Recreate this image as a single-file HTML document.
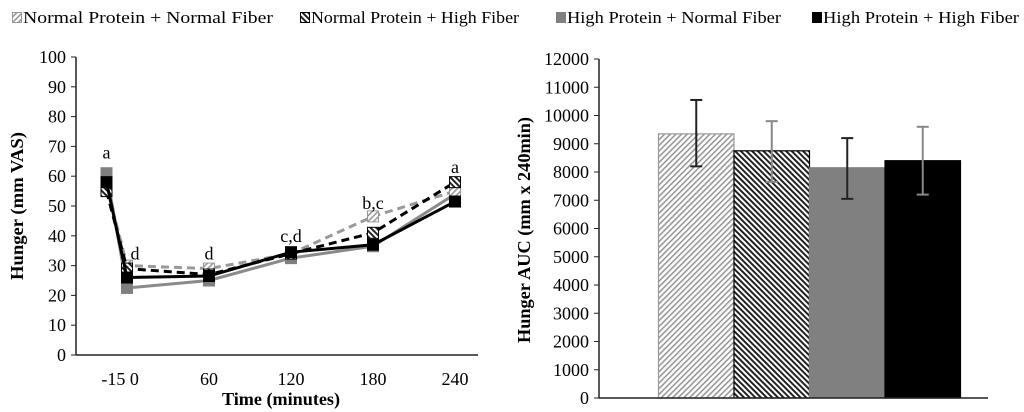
<!DOCTYPE html>
<html><head><meta charset="utf-8"><style>
html,body{margin:0;padding:0;background:#fff;}
svg{display:block;font-family:"Liberation Serif",serif;}
</style></head><body>
<svg id="c" width="1024" height="412" viewBox="0 0 1024 412">
<defs>
<pattern id="hl" patternUnits="userSpaceOnUse" width="4" height="4" patternTransform="rotate(45)"><rect width="4" height="4" fill="#fff"/><rect width="1.6" height="4" fill="#999"/></pattern>
<pattern id="hd" patternUnits="userSpaceOnUse" width="4" height="4" patternTransform="rotate(-45)"><rect width="4" height="4" fill="#fff"/><rect width="2" height="4" fill="#222"/></pattern>
</defs>
<g id="legend"></g>
<g id="left"></g>
<g id="right"></g>
</svg>
<script>
const NS="http://www.w3.org/2000/svg";
const seriesNames=["Normal Protein + Normal Fiber","Normal Protein + High Fiber","High Protein + Normal Fiber","High Protein + High Fiber"];
const times=[-15,0,60,120,180,240];
const npnf=[57,30,29,34,46.5,55];
const nphf=[55,29,27,34,41,58];
const hpnf=[61,22.5,25,32.5,36.5,54];
const hphf=[58,26,26.5,34.5,37,51.5];
const yTicksL=[0,10,20,30,40,50,60,70,80,90,100];
const xTickLabels=["-15 0","60","120","180","240"];
const xTickVals=[-5,60,120,180,240];
const sigTimes=[-15,0,60,120,180,240];
const sigLabels=["a","d","d","c,d","b,c","a"];
const sigVals=[66,32,32,38,49,61];
const aucMeans=[9350,8750,8150,8400];
const aucLow=[8200,7650,7050,7200];
const aucHigh=[10550,9800,9200,9600];
const yTicksR=[0,1000,2000,3000,4000,5000,6000,7000,8000,9000,10000,11000,12000];

function el(p,t,a){const e=document.createElementNS(NS,t);for(const k in a)e.setAttribute(k,a[k]);p.appendChild(e);return e;}
const fills=["url(#hl)","url(#hd)","#808080","#000"];
const strokesM=["#999","#000","#808080","#000"];

// legend
const lg=document.getElementById('legend');
const lx=[12,300,556,812];
seriesNames.forEach((n,i)=>{
 const r=el(lg,'rect',{x:lx[i]+0.5,y:12.5,width:9,height:10,fill:fills[i],stroke:strokesM[i]});
 
 
 const t=el(lg,'text',{x:lx[i]+11,y:23,'font-size':17,textLength:[250,208,214,196][i],lengthAdjust:'spacingAndGlyphs'});
 t.textContent=n;
 
 
});

// left chart
const L=document.getElementById('left');
const x0=76,xEnd=478,yB=355,yT=57;
const xs=t=>127+(t)*82/60;
const ys=v=>yB-(v/100)*(yB-yT);
el(L,'line',{x1:x0,y1:yT,x2:x0,y2:yB,stroke:'#222','stroke-width':1.5});
el(L,'line',{x1:x0,y1:yB,x2:xEnd,y2:yB,stroke:'#222','stroke-width':1.5});
yTicksL.forEach(v=>{
 el(L,'line',{x1:x0-5,y1:ys(v),x2:x0,y2:ys(v),stroke:'#222'});
 const t=el(L,'text',{x:x0-10,y:ys(v)+6,'font-size':18,'text-anchor':'end'});t.textContent=v;
 
 
});
xTickVals.forEach((v,i)=>{
 const t=el(L,'text',{x:xs(v),y:385,'font-size':18,'text-anchor':'middle'});t.textContent=xTickLabels[i];
 
 
});
const yt=el(L,'text',{x:0,y:0,'font-size':18,'font-weight':'bold','text-anchor':'middle',textLength:148,lengthAdjust:'spacingAndGlyphs',transform:'translate(23,206) rotate(-90)'});yt.textContent="Hunger (mm VAS)";


const xt=el(L,'text',{x:281,y:405,'font-size':18,'font-weight':'bold','text-anchor':'middle',textLength:118,lengthAdjust:'spacingAndGlyphs'});xt.textContent="Time (minutes)";


const data=[npnf,nphf,hpnf,hphf];
const lineCol=["#999","#000","#8a8a8a","#000"];
const dash=["8,5","8,5",null,null];
[2,0,1,3].forEach(i=>{
 const pts=times.map((t,j)=>xs(t)+','+ys(data[i][j])).join(' ');
 const a={points:pts,fill:'none',stroke:lineCol[i],'stroke-width':3};
 if(dash[i])a['stroke-dasharray']=dash[i];
 const pl=el(L,'polyline',a);
 
 
 times.forEach((t,j)=>{
  const m=el(L,'rect',{x:xs(t)-5.5,y:ys(data[i][j])-5.5,width:11,height:11,fill:fills[i],stroke:strokesM[i]});
  
  
 });
});
sigTimes.forEach((t,i)=>{
 const off=i===1?8:0;
 const s=el(L,'text',{x:xs(t)+off,y:ys(sigVals[i]),'font-size':18,'text-anchor':'middle'});s.textContent=sigLabels[i];
 
 
});

// right chart
const R=document.getElementById('right');
const rx0=599,rxEnd=988,ryB=398,ryT=59;
const ry=v=>ryB-(v/12000)*(ryB-ryT);
el(R,'line',{x1:rx0,y1:ryT,x2:rx0,y2:ryB,stroke:'#222','stroke-width':1.5});
yTicksR.forEach(v=>{
 el(R,'line',{x1:rx0-5,y1:ry(v),x2:rx0,y2:ry(v),stroke:'#222'});
 const t=el(R,'text',{x:rx0-10,y:ry(v)+6,'font-size':18,'text-anchor':'end'});t.textContent=v;
 
 
});
const ryt=el(R,'text',{x:0,y:0,'font-size':18,'font-weight':'bold','text-anchor':'middle',textLength:226,lengthAdjust:'spacingAndGlyphs',transform:'translate(530,230) rotate(-90)'});ryt.textContent="Hunger AUC (mm x 240min)";


const bw=75.5,bx0=658.5;
const errCol=["#222","#888","#222","#888"];
aucMeans.forEach((v,i)=>{
 const b=el(R,'rect',{x:bx0+i*bw,y:ry(v),width:bw,height:ryB-ry(v),fill:fills[i],stroke:['#999','#000','#808080','#000'][i],'stroke-width':1.2});
 
 
});
aucMeans.forEach((v,i)=>{
 const cx=bx0+i*bw+bw/2;
 const g=el(R,'g',{stroke:errCol[i],'stroke-width':2});
 
 
 el(g,'line',{x1:cx,y1:ry(aucLow[i]),x2:cx,y2:ry(aucHigh[i])});
 el(g,'line',{x1:cx-6,y1:ry(aucLow[i]),x2:cx+6,y2:ry(aucLow[i])});
 el(g,'line',{x1:cx-6,y1:ry(aucHigh[i]),x2:cx+6,y2:ry(aucHigh[i])});
});
el(R,'line',{x1:rx0,y1:ryB,x2:rxEnd,y2:ryB,stroke:'#222','stroke-width':1.5});
</script>
</body></html>
